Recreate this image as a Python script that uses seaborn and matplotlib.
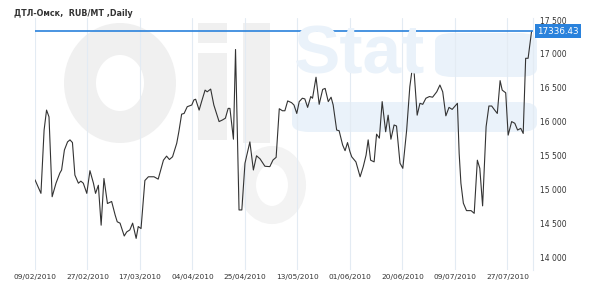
import matplotlib
matplotlib.use("Agg")
import matplotlib.pyplot as plt
import seaborn as sns
import pandas as pd
from matplotlib.patches import FancyBboxPatch, Ellipse, Rectangle

# ---- data (trading-session index, price) ----
session = [0.0, 1.7, 2.6, 3.3, 4.0, 4.9, 6.0, 7.1, 7.6, 8.4, 9.3, 10.0, 10.7, 11.4, 12.4,
           13.1, 13.8, 14.8, 15.7, 16.7, 17.3, 18.1, 18.9, 19.7, 20.7, 21.9, 22.9, 23.5,
           24.3, 25.5, 26.2, 27.1, 27.9, 28.9, 29.5, 30.3, 31.4, 32.4, 34.0, 35.2, 36.7,
           37.6, 38.4, 39.3, 40.5, 41.1, 41.9, 42.6, 43.5, 44.8, 45.4, 45.9, 46.9, 47.6,
           48.6, 49.2, 50.2, 51.1, 52.6, 53.6, 54.4, 55.2, 55.7, 56.7, 57.3, 58.3, 59.1,
           60.0, 61.4, 62.4, 63.3, 64.3, 65.7, 67.1, 68.0, 68.9, 69.8, 70.7, 71.4, 72.2,
           73.3, 74.0, 74.8, 75.5, 76.4, 77.1, 77.9, 78.8, 79.3, 80.3, 81.2, 82.2, 82.9,
           83.8, 84.6, 85.2, 86.2, 86.9, 87.9, 88.6, 89.3, 90.0, 90.5, 91.7, 92.9, 93.8,
           94.6, 95.2, 95.9, 96.9, 97.6, 98.4, 99.2, 100.2, 100.9, 101.7, 102.6, 103.3,
           104.3, 105.1, 106.2, 107.1, 108.1, 109.2, 110.0, 110.8, 111.7, 112.7, 113.6,
           114.8, 115.7, 116.5, 117.4, 118.3, 119.2, 120.7, 121.2, 121.7, 122.4, 123.3,
           124.6, 125.5, 126.4, 127.1, 127.9, 128.9, 129.7, 130.5, 131.2, 132.1, 132.9,
           133.5, 134.5, 135.2, 136.2, 137.1, 137.9, 138.8, 139.5, 140.2, 140.9, 141.9]
price = [15140, 14940, 15875, 16170, 16070, 14890, 15090, 15240, 15285, 15580, 15700,
         15730, 15690, 15210, 15090, 15120, 15090, 14940, 15275, 15090, 14940, 15060,
         14470, 15160, 14790, 14820, 14620, 14520, 14500, 14310, 14370, 14400, 14500,
         14275, 14450, 14420, 15130, 15185, 15185, 15150, 15430, 15490, 15440, 15480,
         15680, 15850, 16110, 16120, 16220, 16245, 16320, 16330, 16170, 16295, 16465,
         16440, 16480, 16245, 16000, 16025, 16050, 16195, 16195, 15740, 17065, 14695,
         14695, 15385, 15700, 15285, 15495, 15450, 15340, 15335, 15432, 15472, 16190,
         16160, 16160, 16305, 16280, 16245, 16120, 16295, 16345, 16335, 16210, 16370,
         16345, 16655, 16255, 16475, 16490, 16295, 16360, 16245, 15875, 15865, 15655,
         15570, 15690, 15555, 15480, 15405, 15185, 15335, 15505, 15730, 15430, 15405,
         15815, 15755, 16295, 15850, 16095, 15740, 15950, 15935, 15385, 15310, 15875,
         16515, 16900, 16095, 16270, 16255, 16345, 16370, 16360, 16440, 16540, 16440,
         16085, 16210, 16180, 16270, 15530, 15090, 14795, 14685, 14685, 14645, 15430,
         15310, 14755, 15925, 16230, 16230, 16180, 16120, 16605, 16465, 16425, 15800,
         16000, 15975, 15875, 15900, 15825, 16935, 16935, 17336.43]
tick_sessions = [0, 15, 30, 45, 60, 75, 90, 105, 120, 135]
tick_labels = ["09/02/2010", "27/02/2010", "17/03/2010", "04/04/2010", "25/04/2010",
               "13/05/2010", "01/06/2010", "20/06/2010", "09/07/2010", "27/07/2010"]
y_ticks = [14000, 14500, 15000, 15500, 16000, 16500, 17000, 17500]
last_price = 17336.43
title = "ДТЛ-Омск,  RUB/MT ,Daily"

df = pd.DataFrame({"session": session, "price": price})

sns.set_style("white")
plt.rcParams["font.family"] = ["DejaVu Sans"]

W, H = 590, 290
fig = plt.figure(figsize=(W / 100, H / 100), dpi=100)
ax = fig.add_axes([35 / W, 20 / H, 498 / W, 252 / H])
ax.patch.set_visible(False)


def fx(x):
    return x / W


def fy(y):
    return 1 - y / H


# ---- faint "OilStat" watermark (figure pixel layout) ----
GRAY = "#f0f0f0"
BLUE = "#eaf2fa"
wm = []
wm.append(Ellipse((fx(120), fy(83)), 80 / W, 88 / H, fill=False, ec=GRAY, lw=23))
wm.append(Rectangle((fx(198), fy(140)), 29 / W, 87 / H, color=GRAY, lw=0))
wm.append(Rectangle((fx(198), fy(43)), 29 / W, 20 / H, color=GRAY, lw=0))
wm.append(Rectangle((fx(243), fy(143)), 27 / W, 120 / H, color=GRAY, lw=0))
wm.append(Ellipse((fx(272), fy(185)), 50 / W, 60 / H, fill=False, ec="#f3f3f3", lw=13))
wm.append(FancyBboxPatch((fx(292), fy(132)), 245 / W, 30 / H,
                         boxstyle="round,pad=0,rounding_size=0.03", color=BLUE, lw=0))
wm.append(FancyBboxPatch((fx(435), fy(77)), 102 / W, 44 / H,
                         boxstyle="round,pad=0,rounding_size=0.03", color=BLUE, lw=0))
for p in wm:
    p.set_transform(fig.transFigure)
    p.set_zorder(0)
    fig.add_artist(p)
fig.text(fx(294), fy(55), "Stat", fontsize=50, fontweight="bold", color=BLUE,
         family="Liberation Sans", ha="left", va="center", zorder=0)

sns.lineplot(data=df, x="session", y="price", ax=ax, color="#333333", lw=0.8,
             estimator=None, sort=False, zorder=3)

ax.axhline(last_price, color="#2a82dc", lw=1.2, zorder=4)

ax.set_xlim(0, 142.3)
ax.set_ylim(13808, 17530)
ax.set_xticks(tick_sessions)
ax.set_xticklabels(tick_labels, fontsize=5.3, color="#333333")
ax.set_yticks(y_ticks)
ax.set_yticklabels([f"{v:,}".replace(",", " ") for v in y_ticks], fontsize=5.5, color="#333333")
ax.yaxis.tick_right()
ax.tick_params(axis="both", length=0, pad=3)
ax.tick_params(axis="y", pad=5)
ax.grid(axis="x", color="#e3ebf3", lw=0.8)
ax.grid(axis="y", visible=False)
for s in ["left", "top", "bottom"]:
    ax.spines[s].set_visible(False)
ax.spines["right"].set_color("#e3ebf3")
ax.set_xlabel("")
ax.set_ylabel("")

ax.text(1.008, last_price, f"{last_price:.2f}", transform=ax.get_yaxis_transform(),
        fontsize=6.3, color="white", ha="left", va="center", zorder=5,
        bbox=dict(boxstyle="square,pad=0.25", fc="#2a82dc", ec="none"))

fig.text(fx(14), fy(13), title, fontsize=5.8, fontweight="bold", color="#333333",
         ha="left", va="center")

fig.savefig("out.png", dpi=100)
